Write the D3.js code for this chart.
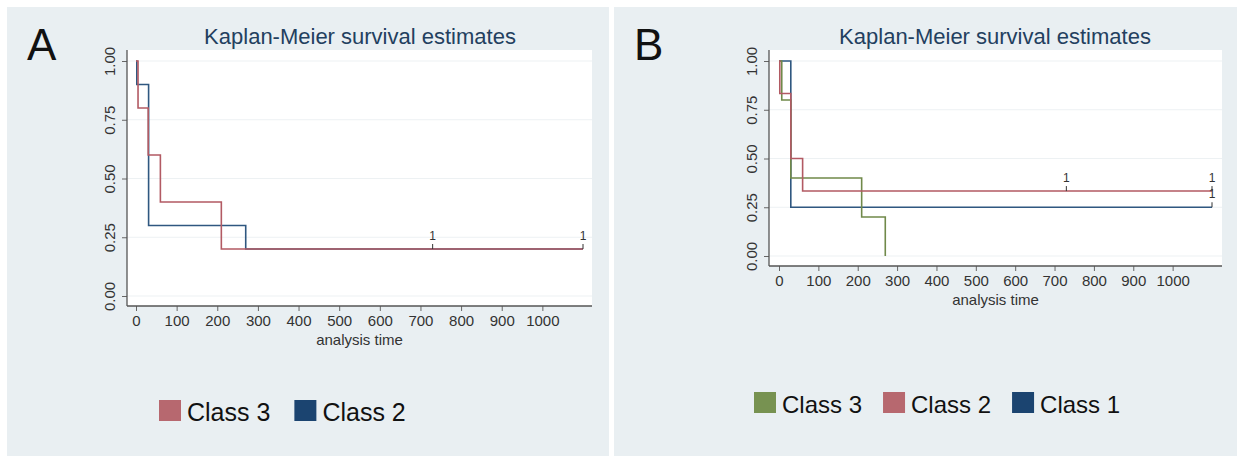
<!DOCTYPE html>
<html lang="en">
<head>
<meta charset="UTF-8">
<title>Kaplan-Meier survival estimates</title>
<style>
  body { margin: 0; background: #ffffff; font-family: "Liberation Sans", Arial, sans-serif; }
  svg { display: block; }
</style>
</head>
<body>
<svg id="chart" width="1237" height="456"></svg>
<script src="https://d3js.org/d3.v7.min.js"></script>
<script>
// ---- data ----
const xTicks = [0, 100, 200, 300, 400, 500, 600, 700, 800, 900, 1000];
const yTicks = [0, 0.25, 0.5, 0.75, 1];

// panel A
const aClass3Time = [0, 5, 30, 60, 210, 1100];
const aClass3Surv = [1, 0.8, 0.6, 0.4, 0.2, 0.2];
const aClass2Time = [0, 2, 31, 270, 1100];
const aClass2Surv = [1, 0.9, 0.3, 0.2, 0.2];
const aCensorTime = [730, 1100];
const aCensorSurv = [0.2, 0.2];
const aLegend = ['Class 3', 'Class 2'];

// panel B
const bClass3Time = [0, 7, 30, 210, 270];
const bClass3Surv = [1, 0.8, 0.4, 0.2, 0];
const bClass2Time = [0, 2, 30, 60, 1100];
const bClass2Surv = [1, 0.833, 0.5, 0.333, 0.333];
const bClass1Time = [0, 30, 1100];
const bClass1Surv = [1, 0.25, 0.25];
const bCensor2Time = [730, 1100];
const bCensor2Surv = [0.333, 0.333];
const bCensor1Time = [1100];
const bCensor1Surv = [0.25];
const bLegend = ['Class 3', 'Class 2', 'Class 1'];

const red = '#b25a63', blue = '#2f5780', green = '#70894a';
const redKey = '#b7686f', blueKey = '#1b4470', greenKey = '#779251';

const svg = d3.select('#chart');
const font = '"Liberation Sans", Arial, sans-serif';

// panel backgrounds
svg.append('rect').attr('x', 7).attr('y', 7).attr('width', 602).attr('height', 449).attr('fill', '#e9eff2');
svg.append('rect').attr('x', 614).attr('y', 7).attr('width', 623).attr('height', 449).attr('fill', '#e9eff2');

function zip(t, s) { return t.map((d, i) => ({ t: d, s: s[i] })); }

function drawPanel(p) {
  const g = svg.append('g');
  const x = d3.scaleLinear().domain([0, 1100]).range([p.x0, p.x1100]);
  const y = d3.scaleLinear().domain([0, 1]).range([p.y0, p.y1]);

  g.append('text').attr('x', p.letterX).attr('y', 60).text(p.letter)
    .attr('font-family', font).attr('font-size', 44).attr('fill', '#111');

  g.append('text').attr('x', p.titleX).attr('y', 44).attr('text-anchor', 'middle')
    .attr('font-family', font).attr('font-size', 22).attr('fill', '#23405f')
    .text('Kaplan-Meier survival estimates');

  // plot region
  g.append('rect').attr('x', p.left).attr('y', p.top)
    .attr('width', p.right - p.left).attr('height', p.bottom - p.top).attr('fill', '#ffffff');

  g.selectAll('.grid').data(yTicks).enter().append('line')
    .attr('x1', p.left).attr('x2', p.right)
    .attr('y1', d => y(d)).attr('y2', d => y(d))
    .attr('stroke', '#edf1f3').attr('stroke-width', 1.2);

  // axes
  const xAxis = g.append('g').attr('transform', `translate(0,${p.bottom})`)
    .call(d3.axisBottom(x).tickValues(xTicks).tickFormat(d3.format('d'))
      .tickSize(5).tickSizeOuter(0).tickPadding(4));
  const yAxis = g.append('g').attr('transform', `translate(${p.left},0)`)
    .call(d3.axisLeft(y).tickValues(yTicks).tickFormat(d3.format('.2f')).tickSize(5).tickSizeOuter(0));
  [xAxis, yAxis].forEach(a => {
    a.select('.domain').remove();
    a.selectAll('line').attr('stroke', '#666');
    a.selectAll('text').attr('font-family', font).attr('font-size', 15).attr('fill', '#333');
  });
  yAxis.selectAll('.tick text')
    .attr('text-anchor', 'middle').attr('x', 0)
    .attr('transform', 'translate(-17,0) rotate(-90)')
    .attr('dy', '0.35em');
  g.append('line').attr('x1', p.left).attr('x2', p.right).attr('y1', p.bottom).attr('y2', p.bottom)
    .attr('stroke', '#555').attr('stroke-width', 1.3);
  g.append('line').attr('x1', p.left).attr('x2', p.left).attr('y1', p.top).attr('y2', p.bottom)
    .attr('stroke', '#555').attr('stroke-width', 1.3);

  g.append('text').attr('x', x(550)).attr('y', p.bottom + 39).attr('text-anchor', 'middle')
    .attr('font-family', font).attr('font-size', 15).attr('fill', '#333').text('analysis time');

  // survival curves
  const line = d3.line().x(d => x(d.t)).y(d => y(d.s)).curve(d3.curveStepAfter);
  p.curves.forEach(c => {
    g.append('path').datum(zip(c.time, c.surv)).attr('d', line)
      .attr('fill', 'none').attr('stroke', c.color).attr('stroke-width', 1.6);
  });

  // censor marks
  p.censors.forEach(c => {
    const pts = zip(c.time, c.surv);
    g.selectAll(null).data(pts).enter().append('line')
      .attr('x1', d => x(d.t)).attr('x2', d => x(d.t))
      .attr('y1', d => y(d.s)).attr('y2', d => y(d.s) - 5)
      .attr('stroke', '#333').attr('stroke-width', 1);
    g.selectAll(null).data(pts).enter().append('text')
      .attr('x', d => x(d.t)).attr('y', d => y(d.s) - 9).attr('text-anchor', 'middle')
      .attr('font-family', font).attr('font-size', 12).attr('fill', '#333').text('1');
  });

  // legend
  let lx = p.legendX;
  p.legend.forEach((name, i) => {
    g.append('rect').attr('x', lx).attr('y', p.legendY - 21).attr('width', 22).attr('height', 21)
      .attr('fill', p.keyColors[i]);
    const t = g.append('text').attr('x', lx + 28).attr('y', p.legendY)
      .attr('font-family', font).attr('font-size', p.legendSize).attr('fill', '#111').text(name);
    lx += 28 + t.node().getComputedTextLength() + p.legendGap;
  });
}

drawPanel({
  letter: 'A', letterX: 27, titleX: 360,
  left: 127, right: 592, top: 50, bottom: 306,
  x0: 136, x1100: 583, y0: 296, y1: 61,
  curves: [
    { time: aClass2Time, surv: aClass2Surv, color: blue },
    { time: aClass3Time, surv: aClass3Surv, color: red }
  ],
  censors: [{ time: aCensorTime, surv: aCensorSurv }],
  legend: aLegend, keyColors: [redKey, blueKey],
  legendX: 159, legendY: 421, legendSize: 25, legendGap: 24
});

drawPanel({
  letter: 'B', letterX: 634, titleX: 995,
  left: 769, right: 1222, top: 50, bottom: 266,
  x0: 779, x1100: 1212, y0: 256, y1: 61,
  curves: [
    { time: bClass1Time, surv: bClass1Surv, color: blue },
    { time: bClass3Time, surv: bClass3Surv, color: green },
    { time: bClass2Time, surv: bClass2Surv, color: red }
  ],
  censors: [
    { time: bCensor2Time, surv: bCensor2Surv },
    { time: bCensor1Time, surv: bCensor1Surv }
  ],
  legend: bLegend, keyColors: [greenKey, redKey, blueKey],
  legendX: 754, legendY: 413, legendSize: 24, legendGap: 21
});
</script>
</body>
</html>
